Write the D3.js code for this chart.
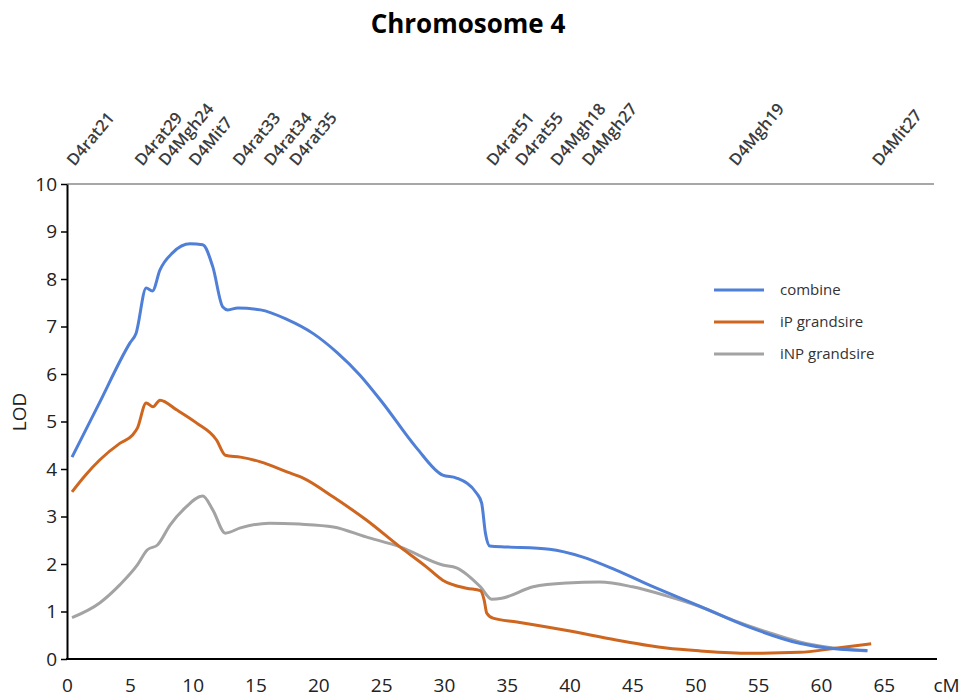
<!DOCTYPE html>
<html>
<head>
<meta charset="utf-8">
<script src="https://cdn.jsdelivr.net/npm/d3@7"></script>
<style>
  body { margin: 0; background: #fff; }
  text { font-family: "Open Sans", sans-serif; }
</style>
</head>
<body>
<div id="container"></div>
<script>
// Chart values
var yTicks = [0, 1, 2, 3, 4, 5, 6, 7, 8, 9, 10];
var xTicks = [0, 5, 10, 15, 20, 25, 30, 35, 40, 45, 50, 55, 60, 65];

var markerNames = ['D4rat21', 'D4rat29', 'D4Mgh24', 'D4Mit7', 'D4rat33', 'D4rat34', 'D4rat35',
  'D4rat51', 'D4rat55', 'D4Mgh18', 'D4Mgh27', 'D4Mgh19', 'D4Mit27'];
var markerPos = [0.6, 6.0, 7.9, 10.3, 13.8, 16.3, 18.3, 34.0, 36.3, 39.1, 41.6, 53.3, 64.7];

var seriesNames = ['combine', 'iP grandsire', 'iNP grandsire'];

var combineX = [0.4, 2.5, 5.0, 5.5, 6.3, 6.8, 7.4, 8.4, 9.8, 10.8, 11.6, 12.4, 12.8, 13.6, 15.4, 17.5, 19.6,
  21.5, 23.3, 25.1, 27.8, 29.9, 31.0, 32.6, 33.0, 33.3, 33.65, 35.0, 38.4, 41.0, 43.7, 46.4, 50.3, 54.3,
  58.3, 60.5, 63.7];
var combineY = [4.25, 5.35, 6.65, 6.86, 7.81, 7.75, 8.19, 8.55, 8.74, 8.72, 8.26, 7.41, 7.35, 7.39, 7.35,
  7.15, 6.85, 6.45, 5.98, 5.4, 4.45, 3.87, 3.81, 3.49, 3.28, 2.65, 2.38, 2.36, 2.31, 2.15, 1.87, 1.55,
  1.12, 0.67, 0.33, 0.23, 0.18];

var ipX = [0.4, 1.5, 2.6, 4.2, 5.2, 5.6, 6.3, 6.85, 7.4, 8.75, 10.3, 11.9, 12.6, 13.8, 15.4, 17.5, 18.8,
  21.2, 23.8, 26.5, 28.6, 29.9, 31.8, 32.9, 33.2, 33.4, 33.9, 35.8, 39.8, 43.7, 47.7, 50.4, 54.3, 58.3,
  61.0, 64.0];
var ipY = [3.52, 3.88, 4.19, 4.54, 4.71, 4.86, 5.39, 5.31, 5.45, 5.24, 4.97, 4.61, 4.29, 4.25, 4.15, 3.94,
  3.81, 3.41, 2.93, 2.36, 1.94, 1.66, 1.49, 1.44, 1.24, 0.97, 0.86, 0.78, 0.6, 0.4, 0.23, 0.17, 0.12,
  0.14, 0.22, 0.32];

var inpX = [0.4, 2.6, 4.2, 5.6, 6.4, 7.2, 8.2, 9.4, 10.8, 11.6, 12.6, 13.8, 16.1, 18.5, 21.2, 23.8, 26.5,
  29.9, 31.0, 32.9, 33.8, 34.6, 37.1, 39.8, 42.4, 45.0, 47.7, 50.4, 53.0, 55.7, 58.3, 61.0, 63.7];
var inpY = [0.87, 1.18, 1.56, 1.98, 2.3, 2.4, 2.82, 3.18, 3.43, 3.14, 2.65, 2.76, 2.86, 2.84, 2.78, 2.57,
  2.36, 1.98, 1.92, 1.52, 1.26, 1.28, 1.52, 1.6, 1.62, 1.52, 1.33, 1.1, 0.82, 0.57, 0.36, 0.23, 0.17];

var colours = ['#4f7fd6', '#cf661f', '#a3a3a3'];

// Plot constants
var width = 965,
height = 700;

var svg = d3.select('#container').append('svg').attr('width', width).attr('height', height);

var x = d3.scaleLinear().domain([0, 69]).range([67, 934]);
var y = d3.scaleLinear().domain([0, 10]).range([659, 184]);

// Title
svg.append('text')
  .attr('x', 468).attr('y', 33)
  .attr('text-anchor', 'middle')
  .style('font-size', '26px').style('font-weight', 'bold').style('fill', '#000')
  .text('Chromosome 4');

// top border line
svg.append('line')
  .attr('x1', x(0)).attr('x2', x(69))
  .attr('y1', y(10)).attr('y2', y(10))
  .attr('stroke', '#8a8a8a').attr('stroke-width', 1.5);

// Y axis
var yAxis = d3.axisLeft(y).tickValues(yTicks).tickSize(6).tickSizeOuter(0).tickPadding(4);
var gy = svg.append('g').attr('transform', 'translate(' + x(0) + ',0)').call(yAxis);
gy.select('.domain').attr('stroke', '#000').attr('stroke-width', 2);
gy.selectAll('.tick line').attr('stroke', '#000').attr('stroke-width', 1.5);
gy.selectAll('.tick text').style('font-size', '19px').style('fill', '#222').style('font-family', '"Open Sans", sans-serif');

// X axis (labels only, no tick marks)
var xAxis = d3.axisBottom(x).tickValues(xTicks).tickSize(0).tickPadding(20);
var gx = svg.append('g').attr('transform', 'translate(0,' + y(0) + ')').call(xAxis);
gx.select('.domain').remove();
gx.selectAll('.tick text').style('font-size', '19px').style('fill', '#222').style('font-family', '"Open Sans", sans-serif');

svg.append('line')
  .attr('x1', x(0) - 1).attr('x2', x(69) + 3)
  .attr('y1', y(0)).attr('y2', y(0))
  .attr('stroke', '#000').attr('stroke-width', 2);

// unit label at the end of the x axis
svg.append('text')
  .attr('x', x(70)).attr('y', y(0) + 20)
  .attr('dy', '0.71em')
  .attr('text-anchor', 'middle')
  .style('font-size', '19px').style('fill', '#222')
  .text('cM');

// Y axis title
svg.append('text')
  .attr('transform', 'translate(26,' + y(5.2) + ') rotate(-90)')
  .attr('text-anchor', 'middle')
  .style('font-size', '19px').style('fill', '#222')
  .text('LOD');

// Marker names along the top
svg.append('g').selectAll('text')
  .data(markerNames)
  .enter()
  .append('text')
  .attr('transform', function (d, i) {
    return 'translate(' + x(markerPos[i]) + ',167) rotate(-50)';
  })
  .style('font-size', '16.5px').style('font-weight', 600).style('fill', '#3c3c3c')
  .text(function (d) { return d; });

// Curves
var seriesData = [
  combineX.map(function (v, i) { return [v, combineY[i]]; }),
  ipX.map(function (v, i) { return [v, ipY[i]]; }),
  inpX.map(function (v, i) { return [v, inpY[i]]; })
];

var line = d3.line()
  .x(function (d) { return x(d[0]); })
  .y(function (d) { return y(d[1]); })
  .curve(d3.curveMonotoneX);

// draw gray first so the coloured lines sit on top like the original
[2, 1, 0].forEach(function (k) {
  svg.append('path')
    .datum(seriesData[k])
    .attr('fill', 'none')
    .attr('stroke', colours[k])
    .attr('stroke-width', 3)
    .attr('stroke-linejoin', 'round')
    .attr('d', line);
});

// Legend
var legend = svg.append('g').attr('id', 'legend');
seriesNames.forEach(function (name, i) {
  var ly = 290 + i * 32;
  legend.append('line')
    .attr('x1', 714).attr('x2', 764)
    .attr('y1', ly).attr('y2', ly)
    .attr('stroke', colours[i]).attr('stroke-width', 3);
  legend.append('text')
    .attr('x', 780).attr('y', ly)
    .attr('dy', '0.35em')
    .style('font-size', '15px').style('fill', '#333')
    .text(name);
});
</script>
</body>
</html>
